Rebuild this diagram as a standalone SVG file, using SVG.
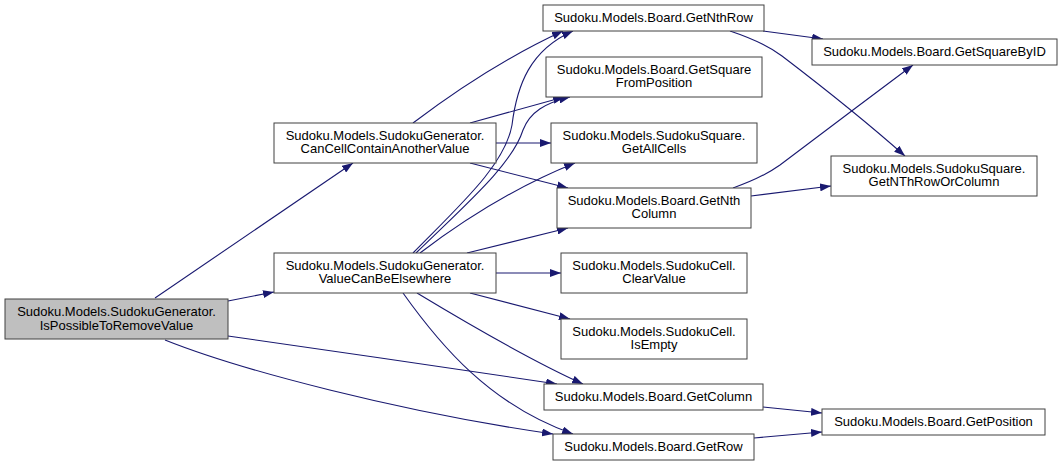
<svg xmlns="http://www.w3.org/2000/svg" width="1061" height="467" viewBox="0 0 1061 467">
<style>
.n rect{fill:#ffffff;stroke:#404040;stroke-width:1}
.n.main rect{fill:#bfbfbf}
.n text{font-family:"Liberation Sans",Arial,sans-serif;font-size:13px;fill:#000000;text-anchor:middle}
.e path{fill:none;stroke:#191970;stroke-width:1.1;marker-end:url(#ah)}
</style>
<defs>
<marker id="ah" markerWidth="11" markerHeight="8" refX="11" refY="4" orient="auto" markerUnits="userSpaceOnUse">
<path d="M0,0 L11,4 L0,8 z" fill="#191970" stroke="none"/>
</marker>
</defs>
<rect width="1061" height="467" fill="#ffffff"/>
<g id="connectors" class="e">
<path d="M155,298 L353,163"/>
<path d="M228,301 L274,292"/>
<path d="M228,336 C330,350 460,370 557,384"/>
<path d="M165,340 C240,370 400,412 553,434"/>
<path d="M413,123 C450,95 500,60 563,31"/>
<path d="M470,123 L564,97"/>
<path d="M496,143 L551,143"/>
<path d="M470,163 L568,188"/>
<path d="M413,253 C460,205 505,165 512,125 C517,85 530,50 573,31"/>
<path d="M416,253 C465,205 512,165 523,130 C530,112 545,103 570,97"/>
<path d="M420,253 C470,215 520,185 575,163"/>
<path d="M467,253 L568,228"/>
<path d="M496,273 L561,273"/>
<path d="M470,293 L570,319"/>
<path d="M417,293 C470,325 530,360 583,384"/>
<path d="M403,293 C440,345 490,405 573,434"/>
<path d="M763,31 L823,39"/>
<path d="M730,31 C748,37 766,44 782,56 C820,85 870,125 905,156"/>
<path d="M733,188 C750,182 766,175 780,165 C820,135 870,97 913,65"/>
<path d="M751,196 L831,186"/>
<path d="M763,407 L822,413"/>
<path d="M754,438 L822,432"/>
</g>
<g id="IsPossibleToRemoveValue" class="n main">
<rect x="5" y="299" width="223" height="40"/>
<text x="116.5" y="316">Sudoku.Models.SudokuGenerator.</text>
<text x="116.5" y="330">IsPossibleToRemoveValue</text>
</g>
<g id="CanCellContainAnotherValue" class="n">
<rect x="274" y="123" width="222" height="40"/>
<text x="385" y="140">Sudoku.Models.SudokuGenerator.</text>
<text x="385" y="153">CanCellContainAnotherValue</text>
</g>
<g id="ValueCanBeElsewhere" class="n">
<rect x="274" y="253" width="222" height="40"/>
<text x="385" y="270">Sudoku.Models.SudokuGenerator.</text>
<text x="385" y="283">ValueCanBeElsewhere</text>
</g>
<g id="GetNthRow" class="n">
<rect x="543" y="5" width="221" height="26"/>
<text x="653.5" y="22">Sudoku.Models.Board.GetNthRow</text>
</g>
<g id="GetSquareFromPosition" class="n">
<rect x="546" y="57" width="216" height="40"/>
<text x="654" y="74">Sudoku.Models.Board.GetSquare</text>
<text x="654" y="87">FromPosition</text>
</g>
<g id="GetAllCells" class="n">
<rect x="551" y="123" width="206" height="40"/>
<text x="654" y="140">Sudoku.Models.SudokuSquare.</text>
<text x="654" y="153">GetAllCells</text>
</g>
<g id="GetNthColumn" class="n">
<rect x="557" y="188" width="194" height="40"/>
<text x="654" y="205">Sudoku.Models.Board.GetNth</text>
<text x="654" y="218">Column</text>
</g>
<g id="ClearValue" class="n">
<rect x="561" y="253" width="186" height="40"/>
<text x="654" y="270">Sudoku.Models.SudokuCell.</text>
<text x="654" y="283">ClearValue</text>
</g>
<g id="IsEmpty" class="n">
<rect x="561" y="319" width="186" height="40"/>
<text x="654" y="336">Sudoku.Models.SudokuCell.</text>
<text x="654" y="349">IsEmpty</text>
</g>
<g id="GetColumn" class="n">
<rect x="544" y="384" width="219" height="26"/>
<text x="653.5" y="401">Sudoku.Models.Board.GetColumn</text>
</g>
<g id="GetRow" class="n">
<rect x="553" y="434" width="201" height="26"/>
<text x="653.5" y="451">Sudoku.Models.Board.GetRow</text>
</g>
<g id="GetSquareByID" class="n">
<rect x="812" y="39" width="245" height="26"/>
<text x="934.5" y="56">Sudoku.Models.Board.GetSquareByID</text>
</g>
<g id="GetNThRowOrColumn" class="n">
<rect x="831" y="156" width="206" height="40"/>
<text x="934" y="173">Sudoku.Models.SudokuSquare.</text>
<text x="934" y="186">GetNThRowOrColumn</text>
</g>
<g id="GetPosition" class="n">
<rect x="822" y="409" width="223" height="26"/>
<text x="933.5" y="426">Sudoku.Models.Board.GetPosition</text>
</g>
</svg>
